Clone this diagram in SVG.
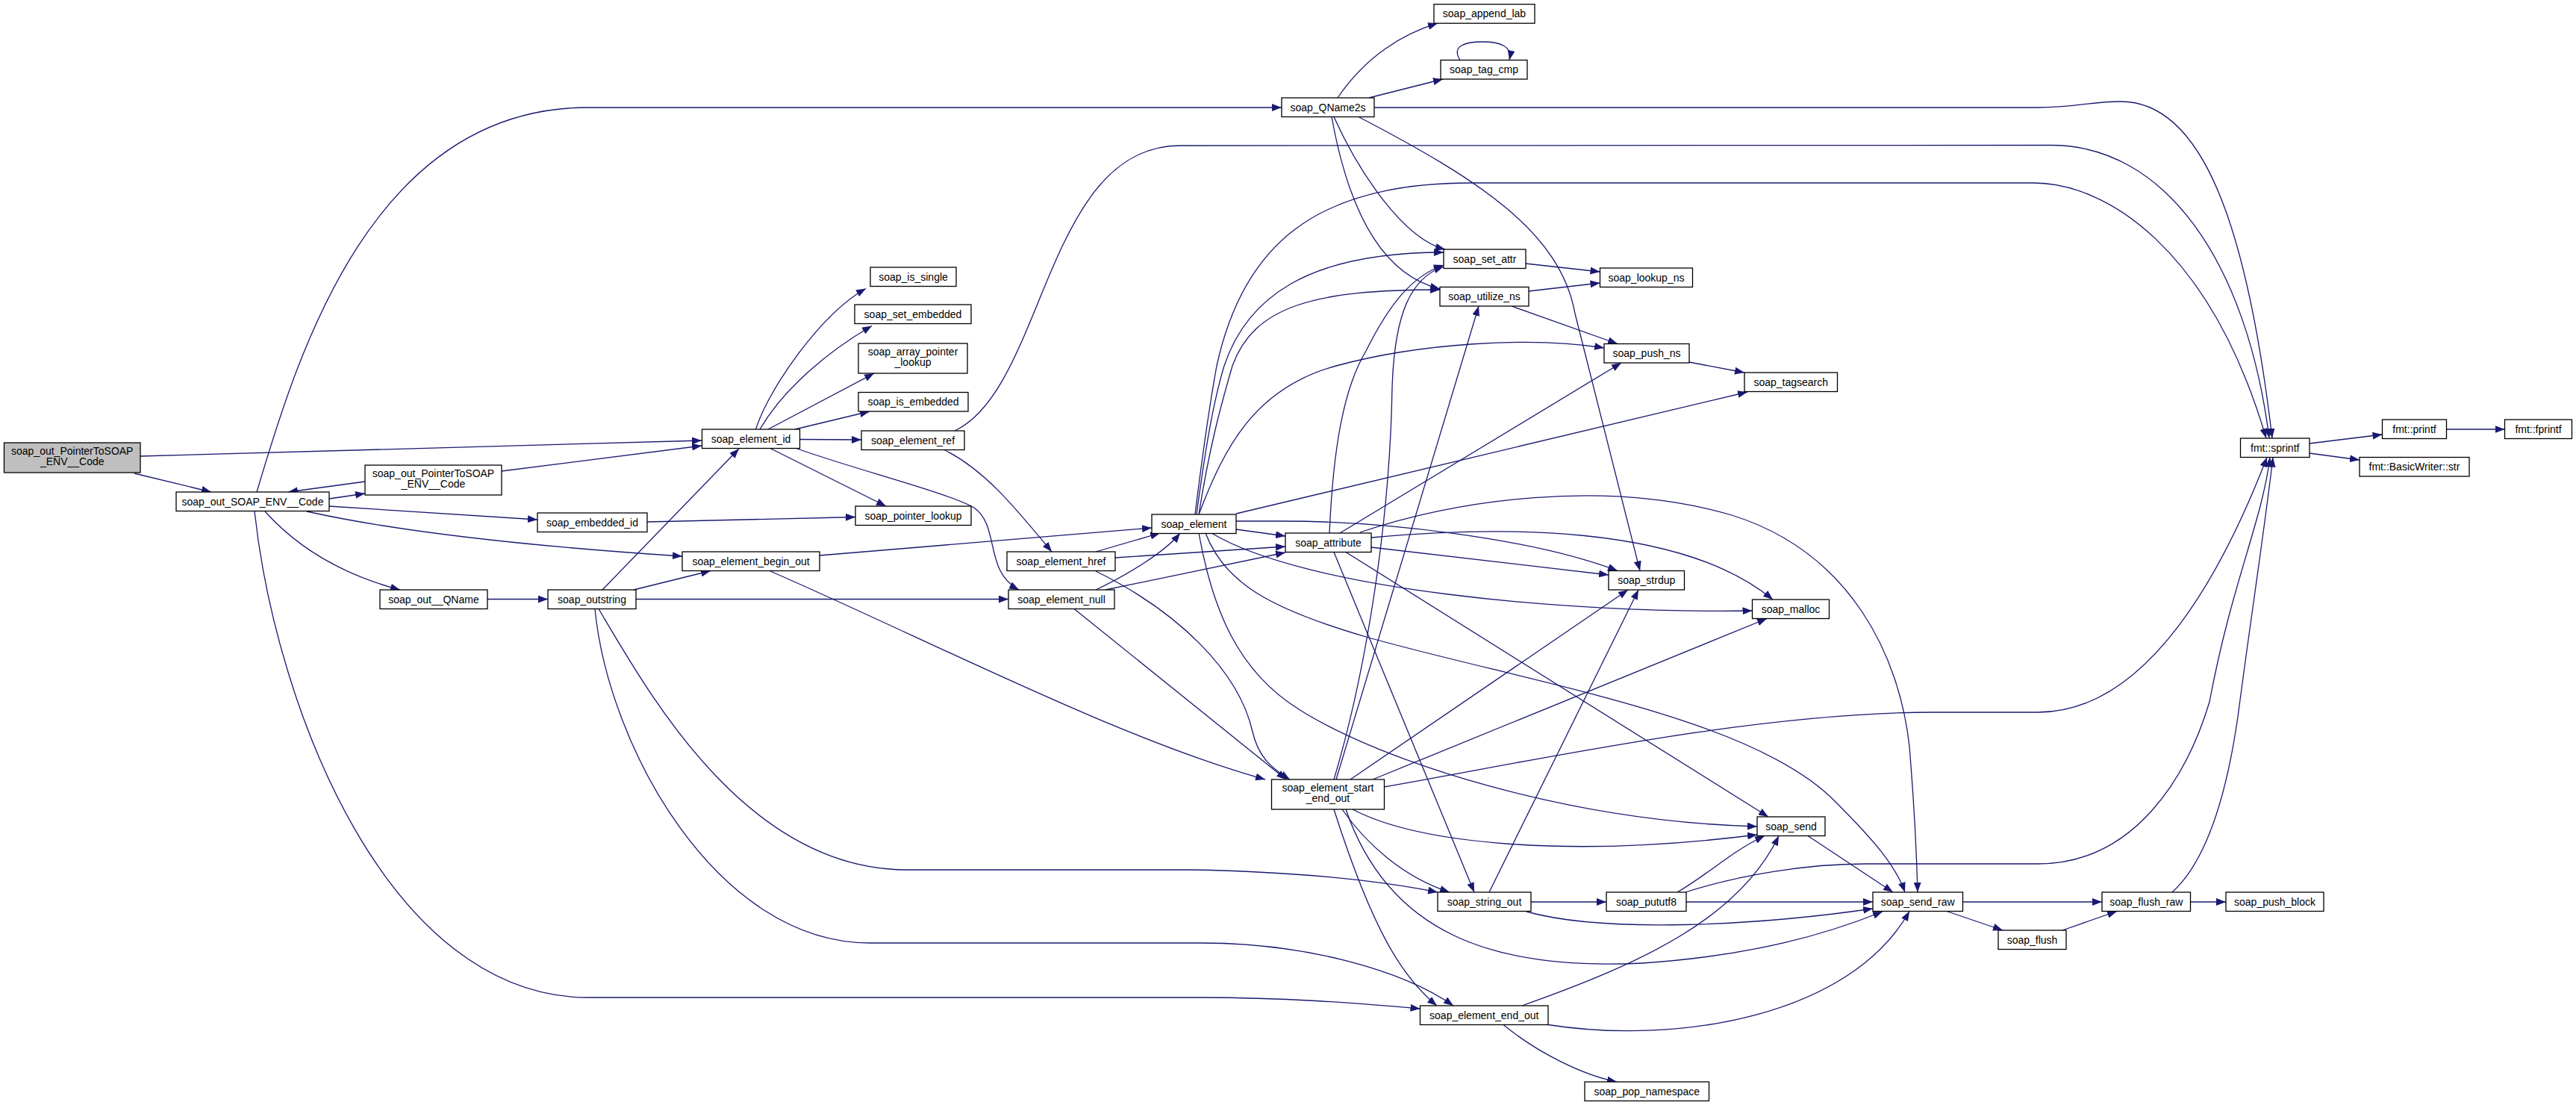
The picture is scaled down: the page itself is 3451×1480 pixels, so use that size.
<svg xmlns="http://www.w3.org/2000/svg" width="3451" height="1480" viewBox="0 0 3451 1480">
<style>
.node rect{fill:#ffffff;stroke:#000000;stroke-width:1.3}
.node.root rect{fill:#bfbfbf}
.node text{font-family:"Liberation Sans",Arial,sans-serif;font-size:14px;fill:#000;text-anchor:middle}
.edges path{fill:none;stroke:#191970;stroke-width:1.3;marker-end:url(#ah)}
</style>
<defs>
<marker id="ah" viewBox="0 0 13 10" refX="13" refY="5" markerWidth="13" markerHeight="10" markerUnits="userSpaceOnUse" orient="auto">
<path d="M0,0 L13,5 L0,10 z" fill="#191970"/>
</marker>
</defs>
<rect width="3451" height="1480" fill="#ffffff"/>
<g id="edges" class="edges">
<path d="M180,634 L283,659"/>
<path d="M188,611 L940,590"/>
<path d="M441,668 L489,661"/>
<path d="M489,645 L386,659"/>
<path d="M672,631 L940,597"/>
<path d="M441,678 L720,696"/>
<path d="M411,685 C560,718 760,735 914,745"/>
<path d="M355,685 C400,735 460,770 536,790"/>
<path d="M344,659 C400,470 500,144 788,144 L1717,144"/>
<path d="M341,685 C370,950 520,1336 788,1336 L1609,1336 C1720,1336 1810,1343 1902.5,1351"/>
<path d="M653,802.5 L734,802.5"/>
<path d="M807,790 L990,601"/>
<path d="M849,790 L952,764.5"/>
<path d="M852,802.5 L1351,802.5"/>
<path d="M802,815.5 C870,930 1000,1165 1215,1165 L1598,1165 C1750,1168 1850,1180 1926,1195"/>
<path d="M797,815.5 C815,1000 960,1263 1165,1263 L1609,1263 C1750,1263 1880,1300 1947,1347"/>
<path d="M1012.5,575 C1030,520 1100,420 1160,386.5"/>
<path d="M1018,575 C1050,520 1110,470 1168,436.5"/>
<path d="M1029,575 L1171,500"/>
<path d="M1065,575 L1165,551"/>
<path d="M1071.5,588.5 L1154,589"/>
<path d="M1032,600.5 L1187,678"/>
<path d="M1068,601 C1150,630 1270,660 1305,680 C1340,705 1318,765 1365,790"/>
<path d="M867,699 L1146,692.5"/>
<path d="M1265,602.5 C1320,630 1360,680 1409,739"/>
<path d="M1279,577 C1400,520 1400,195 1581,195 L2747,194.5 C2900,194 3010,350 3040,587"/>
<path d="M1841,144 L2730,144 C2780,144 2800,136 2841,136 C2950,136 3010,300 3044,587"/>
<path d="M1601,689 C1612,600 1620,545 1630,490 C1665,330 1760,245 1970,245 L2724,245 C2820,245 2960,330 3036,587"/>
<path d="M1603,689 C1615,600 1625,540 1640,490 C1670,400 1750,338 1934,338"/>
<path d="M1606,689 C1620,600 1635,545 1651,490 C1680,410 1760,388 1929,388"/>
<path d="M1606,689 C1640,600 1680,520 1790,490 C1900,460 2050,450 2149,466"/>
<path d="M1656,688 L2341,525"/>
<path d="M1656,709 L1722,718"/>
<path d="M1656,698 L1720,698 C1850,698 2050,720 2167,764.5"/>
<path d="M1623,714 C1750,790 2100,822 2347.5,818"/>
<path d="M1615,714 C1640,780 1700,815 1830,853 C2050,915 2350,960 2460,1075 C2510,1125 2540,1160 2552,1195"/>
<path d="M1606,714 C1625,820 1660,900 1740,950 C1850,1020 2100,1100 2354,1107"/>
<path d="M1097.5,744 L1543,707"/>
<path d="M1032,765 C1250,860 1500,990 1695,1044"/>
<path d="M1468,739 L1554,714"/>
<path d="M1494,747 L1722,732"/>
<path d="M1468,765 C1580,820 1660,900 1678,980 C1686,1015 1705,1030 1728,1044"/>
<path d="M1468,790 C1510,770 1560,740 1581,714"/>
<path d="M1481,790 L1722,740"/>
<path d="M1439,815.5 L1723,1044"/>
<path d="M1792,131 C1830,75 1880,45 1926,31.2"/>
<path d="M1834,131 L1933,106"/>
<path d="M1956,80.5 C1944,62 1962,56 1986,56 C2010,56 2026,62 2022,80.5"/>
<path d="M1787,156.5 C1820,230 1880,320 1936,334"/>
<path d="M1784,156.5 C1810,300 1860,370 1929,387"/>
<path d="M1820,156.5 C1980,240 2090,310 2110,420 L2197,764.5"/>
<path d="M2044,353 L2143.5,364"/>
<path d="M2048,390 L2143.5,379"/>
<path d="M2025,410 L2167,460.5"/>
<path d="M2263,485 L2337,499"/>
<path d="M1795,714 L2172,486"/>
<path d="M1781,714 C1786,600 1800,520 1830,470 C1860,410 1890,370 1934,355"/>
<path d="M1787,1044 C1830,900 1862,700 1865,520 C1868,420 1890,372 1934,357"/>
<path d="M1790,1044 L1981,410"/>
<path d="M1809,1044 L2181,790"/>
<path d="M1839,1044 L2367,828.5"/>
<path d="M1854,1054 C2050,1020 2350,954 2590,954 L2730,954 C2880,954 2980,760 3037,612.5"/>
<path d="M1812,1084 C1900,1130 2100,1150 2354,1118"/>
<path d="M1803,1084 C1860,1250 2000,1300 2200,1290 C2350,1280 2450,1250 2522,1221"/>
<path d="M1798,1084 C1830,1130 1880,1175 1942,1195"/>
<path d="M1787,1084 C1840,1250 1880,1310 1925,1347"/>
<path d="M2051,1208 L2152,1208"/>
<path d="M2045,1221 C2150,1250 2350,1240 2509,1217"/>
<path d="M1995,1195 L2195,790"/>
<path d="M1787,739.5 L1975,1195"/>
<path d="M1803,739.5 L2369,1094"/>
<path d="M1822,713 C1950,670 2150,640 2320,690 C2480,740 2545,880 2558,1000 C2563,1060 2567,1120 2569,1195"/>
<path d="M1837,720 C2000,705 2250,700 2375,803"/>
<path d="M1837,733 L2155,770"/>
<path d="M2259,1208 L2509,1208"/>
<path d="M2247,1195 C2290,1170 2320,1140 2364,1119.5"/>
<path d="M2258,1195 C2330,1172 2420,1157 2500,1157 L2730,1157 C2860,1157 2930,1040 2960,940 C2990,780 3030,700 3041,612.5"/>
<path d="M2910,1195 C2960,1150 2985,1050 2998,960 C3015,830 3035,700 3045,612.5"/>
<path d="M2422,1119.5 L2536,1195"/>
<path d="M2039,1347 C2200,1290 2330,1230 2383,1119.5"/>
<path d="M2074,1372.5 C2250,1400 2480,1360 2558,1220.5"/>
<path d="M2014,1372.5 C2060,1410 2120,1440 2166,1449"/>
<path d="M2629.5,1208 L2816,1208"/>
<path d="M2608,1220.5 L2683,1246"/>
<path d="M2763,1246 L2836,1220.5"/>
<path d="M2934.5,1208 L2982,1208"/>
<path d="M3094,594 L3191.5,582"/>
<path d="M3094,607 L3161,616"/>
<path d="M3277,575 L3355.5,575"/>
</g>
<g id="n1" class="node root"><rect x="5.5" y="593" width="182.5" height="40"/><text x="96.75" y="608.5">soap_out_PointerToSOAP</text><text x="96.75" y="623">_ENV__Code</text></g>
<g id="n2" class="node"><rect x="236" y="659" width="205" height="25.5"/><text x="338.5" y="676.75">soap_out_SOAP_ENV__Code</text></g>
<g id="n3" class="node"><rect x="489" y="623" width="183" height="40"/><text x="580.5" y="638.5">soap_out_PointerToSOAP</text><text x="580.5" y="653">_ENV__Code</text></g>
<g id="n4" class="node"><rect x="720" y="687" width="147" height="25.5"/><text x="793.5" y="704.75">soap_embedded_id</text></g>
<g id="n5" class="node"><rect x="509" y="790" width="144" height="25.5"/><text x="581" y="807.75">soap_out__QName</text></g>
<g id="n6" class="node"><rect x="734" y="790" width="118" height="25.5"/><text x="793" y="807.75">soap_outstring</text></g>
<g id="n7" class="node"><rect x="940.5" y="575" width="131" height="25.5"/><text x="1006" y="592.75">soap_element_id</text></g>
<g id="n8" class="node"><rect x="1166" y="358" width="115" height="25.5"/><text x="1223.5" y="375.75">soap_is_single</text></g>
<g id="n9" class="node"><rect x="1145" y="408" width="156" height="25.5"/><text x="1223" y="425.75">soap_set_embedded</text></g>
<g id="n10" class="node"><rect x="1150" y="460" width="146" height="40"/><text x="1223" y="475.5">soap_array_pointer</text><text x="1223" y="490">_lookup</text></g>
<g id="n11" class="node"><rect x="1150" y="525.5" width="147" height="25.5"/><text x="1223.5" y="543.25">soap_is_embedded</text></g>
<g id="n12" class="node"><rect x="1154" y="577" width="138" height="25.5"/><text x="1223" y="594.75">soap_element_ref</text></g>
<g id="n13" class="node"><rect x="1146" y="678" width="155" height="25.5"/><text x="1223.5" y="695.75">soap_pointer_lookup</text></g>
<g id="n14" class="node"><rect x="914" y="739" width="184" height="25.5"/><text x="1006" y="756.75">soap_element_begin_out</text></g>
<g id="n15" class="node"><rect x="1349" y="739" width="145" height="25.5"/><text x="1421.5" y="756.75">soap_element_href</text></g>
<g id="n16" class="node"><rect x="1351" y="790" width="142" height="25.5"/><text x="1422" y="807.75">soap_element_null</text></g>
<g id="n17" class="node"><rect x="1543" y="689" width="113" height="25.5"/><text x="1599.5" y="706.75">soap_element</text></g>
<g id="n18" class="node"><rect x="1717" y="131" width="124" height="25.5"/><text x="1779" y="148.75">soap_QName2s</text></g>
<g id="n19" class="node"><rect x="1921" y="5.7" width="135" height="25.5"/><text x="1988.5" y="23.45">soap_append_lab</text></g>
<g id="n20" class="node"><rect x="1930" y="80.5" width="116" height="25.5"/><text x="1988" y="98.25">soap_tag_cmp</text></g>
<g id="n21" class="node"><rect x="1934" y="334" width="110" height="25.5"/><text x="1989" y="351.75">soap_set_attr</text></g>
<g id="n22" class="node"><rect x="2143.5" y="359" width="124" height="25.5"/><text x="2205.5" y="376.75">soap_lookup_ns</text></g>
<g id="n23" class="node"><rect x="1929" y="384.5" width="119" height="25.5"/><text x="1988.5" y="402.25">soap_utilize_ns</text></g>
<g id="n24" class="node"><rect x="2149" y="460.5" width="114" height="25.5"/><text x="2206" y="478.25">soap_push_ns</text></g>
<g id="n25" class="node"><rect x="2337" y="499" width="124.5" height="25.5"/><text x="2399.25" y="516.75">soap_tagsearch</text></g>
<g id="n26" class="node"><rect x="1722" y="714" width="115" height="25.5"/><text x="1779.5" y="731.75">soap_attribute</text></g>
<g id="n27" class="node"><rect x="2155" y="764.5" width="101.5" height="25.5"/><text x="2205.75" y="782.25">soap_strdup</text></g>
<g id="n28" class="node"><rect x="2347.5" y="803" width="103" height="25.5"/><text x="2399" y="820.75">soap_malloc</text></g>
<g id="n29" class="node"><rect x="3001.5" y="587" width="92.5" height="25.5"/><text x="3047.75" y="604.75">fmt::sprintf</text></g>
<g id="n30" class="node"><rect x="3191.5" y="562" width="86" height="25.5"/><text x="3234.5" y="579.75">fmt::printf</text></g>
<g id="n31" class="node"><rect x="3355.5" y="562" width="90" height="25.5"/><text x="3400.5" y="579.75">fmt::fprintf</text></g>
<g id="n32" class="node"><rect x="3161" y="612.5" width="147" height="25.5"/><text x="3234.5" y="630.25">fmt::BasicWriter::str</text></g>
<g id="n33" class="node"><rect x="1703.5" y="1044" width="151" height="40"/><text x="1779" y="1059.5">soap_element_start</text><text x="1779" y="1074">_end_out</text></g>
<g id="n34" class="node"><rect x="2354" y="1094" width="91" height="25.5"/><text x="2399.5" y="1111.75">soap_send</text></g>
<g id="n35" class="node"><rect x="1926" y="1195" width="125" height="25.5"/><text x="1988.5" y="1212.75">soap_string_out</text></g>
<g id="n36" class="node"><rect x="2152" y="1195" width="107" height="25.5"/><text x="2205.5" y="1212.75">soap_pututf8</text></g>
<g id="n37" class="node"><rect x="2509" y="1195" width="120.5" height="25.5"/><text x="2569.25" y="1212.75">soap_send_raw</text></g>
<g id="n38" class="node"><rect x="1902.5" y="1347" width="171.5" height="25.5"/><text x="1988.25" y="1364.75">soap_element_end_out</text></g>
<g id="n39" class="node"><rect x="2123" y="1449" width="166.5" height="25.5"/><text x="2206.25" y="1466.75">soap_pop_namespace</text></g>
<g id="n40" class="node"><rect x="2816" y="1195" width="118.5" height="25.5"/><text x="2875.25" y="1212.75">soap_flush_raw</text></g>
<g id="n41" class="node"><rect x="2982" y="1195" width="131" height="25.5"/><text x="3047.5" y="1212.75">soap_push_block</text></g>
<g id="n42" class="node"><rect x="2677" y="1246" width="91" height="25.5"/><text x="2722.5" y="1263.75">soap_flush</text></g>
</svg>
